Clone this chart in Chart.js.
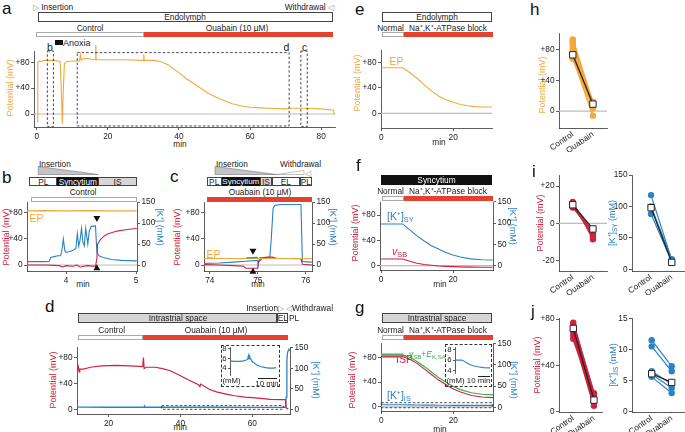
<!DOCTYPE html>
<html>
<head>
<meta charset="utf-8">
<script src="https://cdn.jsdelivr.net/npm/chart.js@4"></script>
<style>
  body { margin: 0; width: 685px; height: 432px; position: relative; overflow: hidden; background: #fff;
         font-family: 'Liberation Sans', Arial, sans-serif; }
  .t { position: absolute; white-space: nowrap; line-height: 1; font-size: 8.3px; color: #222; transform: translate(-50%, -50%); }
  .l { transform: translate(0, -50%); }
  .r { transform: translate(-100%, -50%); }
  .lt { font-size: 17px; color: #111; }
  .bx { position: absolute; box-sizing: border-box; border: 0.8px solid #444; }
  sub { font-size: 70%; vertical-align: -0.25em; }
  canvas { position: absolute; }
</style>
</head>
<body>
<svg style="position:absolute;left:0;top:0" width="685" height="432">
  <polygon points="38.3,166.5 98.3,174.5 38.3,174.5" fill="#c4c4c4" stroke="#777" stroke-width="0.6"/>
  <polygon points="215,166.5 276.7,174.5 215,174.5" fill="#c4c4c4" stroke="#777" stroke-width="0.6"/>
  <polygon points="276.7,174.5 304,170.5 304,174.5" fill="#fff" stroke="#999" stroke-width="0.6"/>
</svg>
<script>
// ---- colours
const ORANGE = '#f2a93b', RED = '#cc2340', BLUE = '#2b83c4', GREEN = '#36a84a', BARRED = '#e5412f', GREY = '#d6d6d6';

// ---- tick labels
const aXTicks = [0, 20, 40, 60, 80];
const potTicks = [0, 40, 80];
const kTicks = [0, 50, 100, 150];
const bXTicks = [4, 5];
const cXTicks = [74, 75, 76];
const dXTicks = [20, 40, 60];
const modelXTicks = [0, 20];
const iVTicks = [-20, 0, 20];
const jKTicks = [0, 5, 10, 15];
const insetTicks = [4, 6, 8];
const catLabels = ['Control', 'Ouabain'];

// ---- a: endolymphatic potential, whole recording (min, mV)
const aTime = [0.1,0.3,0.6,1,2,3,4,5,6,6.6,6.9,7.2,7.5,7.8,8.5,10,11,12,12.3,12.5,13,14,15,16,16.5,16.6,16.7,17,20,25,29.9,30.1,30.3,33,35,37,40,42,45,48,50,53,55,58,60,63,65,70,71,72,75,78,80,83.5,83.7,83.9];
const aEP = [-12,80,82,81,83,83,83,83,82,81,40,-15,40,78,81,82,82,82,92,83,85,86,85,84,84,119,85,84,84,84,83,92,83,83,81,76,64,55,44,33,27,20,16,12,10.5,9.5,9,8,9,9,9,8.5,8,6,0,1];
const aBoxT = [[3.0, 4.7], [11.4, 71.0], [74.3, 76.1]];
const aBoxV = [[-19.5, 97.5], [-18.5, 95], [-19.5, 97.5]];

// ---- b: insertion, control
const bTimeEP = [3.44, 3.7, 4.0, 4.3, 4.6, 5.01];
const bEP = [83, 83.5, 83, 83.5, 83, 83];
const bTimeV = [3.44,3.7,3.9,3.95,4.0,4.1,4.15,4.2,4.3,4.42,4.44,4.45,4.49,4.55,4.6,4.73,4.85,4.97,5.01];
const bV = [0,0,-1,-3,-1,-2,0,-3,-1,-2,10,32,39,45,48,52,54,55.5,56];
const bTimeK = [3.44,3.7,3.76,3.78,3.83,3.88,3.92,3.94,3.96,3.98,4.0,4.05,4.1,4.14,4.16,4.18,4.2,4.22,4.24,4.26,4.28,4.31,4.33,4.36,4.42,4.44,4.47,4.53,4.65,4.8,5.01];
const bK = [8,8,9,18,20,22,22,35,62,35,30,32,35,40,75,45,60,87,55,45,87,50,80,92,93,30,22,18,13,11,10];
const bArrowT = 4.44, bArrowDown = 72, bArrowUp = -5;

// ---- c: insertion, ouabain
const cTimeEP = [73.88, 74.5, 75.0, 75.5, 76.13];
const cEP = [10, 10, 10, 10, 10];
const cTimeV = [73.88,74.2,74.5,74.7,74.75,75.0,75.01,75.06,75.1,75.2,75.3,75.4,75.6,75.9,75.93,76.13];
const cV = [0.5,0,-1,-2,-5,-5,4,8,11,12,12,10,10,9.5,1,0];
const cTimeK = [73.88,74.2,74.5,74.75,75.0,75.01,75.04,75.25,75.28,75.32,75.36,75.5,75.9,75.93,76.13];
const cK = [4,5,7,9,11,1,17,18,60,135,142,144,144,8,7];
const cTimeG = [74.76, 75.0];
const cG = [11, 11.5];
const cArrowT = 74.9, cArrowDown = 22, cArrowUp = -10.5;

// ---- d: intrastrial space
const dTimeV = [11.3,11.6,11.8,12,13,15,18,22,26,29.5,29.7,29.9,30.5,33,35,37,40,42,45,45.4,45.6,48,50,53,55,58,60,63,65,68,69.2,69.45,70];
const dV = [62,66,58,62,62,65,67,68,67,66,80,63,65,65,63,60,52,46,38,35,39,31,27,23,21,19,18,16.5,15.5,15,15,2,0.5];
const dTimeK = [11.3,12,20,29.9,30,30.2,40,50,60,69.2,69.4,69.6,69.8,70.2,70.4];
const dK = [6,5.5,5,5,8,5,5,5,4.5,4.5,30,120,140,147,145];
const dBoxT = [34.8, 68.6], dBoxK = [0, 9];
const dInsetTime = [35,38,42,45,47,48,48.5,49,49.3,49.6,50,50.5,51,53,55,58,61,64,67,69];
const dInsetK = [5.5,5.4,5.4,5.5,5.7,5.8,6.6,5.9,6.8,6.1,6.0,5.8,5.5,5.0,4.6,4.3,4.1,4.0,4.0,4.1];

// ---- e, f, g: model
const eTime = [0,6,8,10,12,14,16,18,20,22,24,26,28,30.8];
const eEP = [72,72,64,55,45,35,27,21.5,17.5,14,12,10.5,10,10];
const fTime = [0,6,8,10,12,14,16,18,20,22,25,28,31];
const fK = [98,98,84,70,58,47,39,31,25,20.5,16,14,13.4];
const fV = [10.5,10.5,7,4,1.8,0.6,-0.4,-1,-1.5,-1.9,-2.2,-2.4,-2.5];
const gTime = [0,6,8,10,12,14,16,18,20,22,25,28,31];
const gISP = [81,81,77,70,61,52,43,36,29,24,18.5,16,15];
const gSum = [84,84,80,73,65,56,47,40,33,28,23,20.5,19.5];
const gK = [6,6,5.8,5.5,5.2,5.0,4.85,4.7,4.6,4.55,4.5,4.5,4.5];
const gFlatTime = [0, 6], gFlat = [83, 83];
const gBoxT = [0, 30.8], gBoxK = [-1, 10.8];
const gInsetTime = [0,6,8,10,13,16,20,25,30.8];
const gInsetK = [6,6,5.8,5.5,5.15,4.9,4.7,4.55,4.5];

// ---- h, i, j: paired summaries
const hControl = [93,91,89,87,85,80,75,70,68];
const hOuabain = [10,9,8,6,5,12,7,-6,4];
const hMean = [73, 9];
const iVControl = [11.5,10.5,10,9,8.5];
const iVOuabain = [-8.5,-7,-5,-6,-4];
const iVMean = [10, -3];
const iKControl = [118, 88, 100];
const iKOuabain = [15, 12, 16];
const iKMean = [98, 11];
const jVControl = [77,75,72,69,66,63];
const jVOuabain = [14,16,11,8,5,12];
const jVMean = [72, 10];
const jKControl = [11.5,10.5,6.5,6.0,5.6];
const jKOuabain = [7.3,6.5,4.4,3.8,3.0];
const jKMean = [6.1, 4.7];

// ---------------------------------------------------------------
Chart.defaults.font.family = "'Liberation Sans', Arial, sans-serif";
Chart.defaults.font.size = 8.3;
Chart.defaults.color = '#222';

const sign = v => v > 0 ? '+' + v : String(v);
const cat = v => catLabels[v];

function T(x, y, html, cls, style) {
  const d = document.createElement('div');
  d.className = 't ' + (cls || '');
  d.innerHTML = html;
  d.style.left = x + 'px';
  d.style.top = y + 'px';
  if (style) d.style.cssText += style;
  document.body.appendChild(d);
  return d;
}
function R(l, t, w, h, bg, style) {
  const d = document.createElement('div');
  d.className = 'bx';
  d.style.cssText = `left:${l}px;top:${t}px;width:${w}px;height:${h}px;background:${bg};` + (style || '');
  document.body.appendChild(d);
}
function V(x, y, html, color, deg) {
  T(x, y, html, '', `color:${color};font-size:9px;transform:translate(-50%,-50%) rotate(${deg}deg)`);
}

function scaleCfg(pos, s, size) {
  return {
    type: 'linear', position: pos, min: s.min, max: s.max, bounds: 'data',
    display: s.display !== false,
    grid: { display: true, drawOnChartArea: false, drawTicks: true, tickLength: s.tl ?? 3, color: '#333', lineWidth: 0.8 },
    border: { display: true, color: '#333', width: 0.8 },
    ticks: { padding: 1.5, color: '#222', font: { size: s.fs || 8.3 }, autoSkip: false,
             minRotation: s.rot || 0, maxRotation: s.rot || 0, callback: s.fmt || (v => String(v)) },
    afterBuildTicks: sc => { sc.ticks = (s.ticks || []).map(v => ({ value: v })); },
    afterFit: sc => {
      if (pos === 'bottom') sc.height = size; else sc.width = size;
      sc.paddingLeft = sc.paddingRight = sc.paddingTop = sc.paddingBottom = 0;
    }
  };
}

function extras(o) {
  return {
    id: 'extras',
    beforeDatasetsDraw(chart) {
      const { ctx, chartArea: ca, scales } = chart;
      if (o.zero) {
        const y = scales.y.getPixelForValue(0);
        ctx.save(); ctx.strokeStyle = '#bdbdbd'; ctx.lineWidth = 1.2;
        ctx.beginPath(); ctx.moveTo(ca.left, y); ctx.lineTo(ca.right, y); ctx.stroke(); ctx.restore();
      }
    },
    afterDatasetsDraw(chart) {
      const { ctx, scales } = chart;
      (o.boxes || []).forEach(b => {
        const ys = scales[b.axis || 'y'];
        const x0 = scales.x.getPixelForValue(b.x[0]), x1 = scales.x.getPixelForValue(b.x[1]);
        const y0 = ys.getPixelForValue(b.y[0]), y1 = ys.getPixelForValue(b.y[1]);
        ctx.save(); ctx.strokeStyle = '#333'; ctx.lineWidth = 0.9; ctx.setLineDash([2.5, 2]);
        ctx.strokeRect(x0, y1, x1 - x0, y0 - y1); ctx.restore();
      });
    }
  };
}

// area = chart area in page pixels; the canvas is placed round it
function makePlot(area, p) {
  const pl = area.pl ?? 34, pr = area.pr ?? 34, pt = area.pt ?? 6, pb = area.pb ?? 24;
  const xHidden = p.x.display === false;
  const w = Math.round(area.r - area.l + pl + pr), h = Math.round(area.b - area.t + pt + pb);
  const c = document.createElement('canvas');
  c.width = w; c.height = h;
  c.style.cssText = `left:${area.l - pl}px;top:${area.t - pt}px;width:${w}px;height:${h}px`;
  document.body.appendChild(c);
  const scales = { x: scaleCfg('bottom', p.x, pb), y: scaleCfg('left', p.y, pl) };
  if (p.yR) scales.yR = scaleCfg('right', p.yR, pr);
  new Chart(c, {
    type: 'scatter',
    data: { datasets: p.datasets },
    options: {
      responsive: false, animation: false, events: [],
      layout: { padding: { top: pt, left: 0, right: p.yR ? 0 : pr, bottom: xHidden ? pb : 0 } },
      plugins: { legend: { display: false }, tooltip: { enabled: false } },
      scales
    },
    plugins: [extras(p)]
  });
}

function trace(xs, ys, color, axis, w, extra) {
  return Object.assign({
    data: xs.map((x, i) => ({ x, y: ys[i] })), showLine: true, borderColor: color,
    borderWidth: w || 1, pointRadius: 0, tension: 0, yAxisID: axis || 'y'
  }, extra || {});
}
function arrow(t, v, down) {
  return { data: [{ x: t, y: v }], pointStyle: 'triangle', pointRotation: down ? 180 : 0, pointRadius: 4,
           pointBackgroundColor: '#111', pointBorderColor: '#111', pointBorderWidth: 0, clip: false, order: -2 };
}
function pairs(ctrl, oua, color, mean, lw) {
  const ds = ctrl.map((c, i) => ({
    data: [{ x: 0, y: c }, { x: 1, y: oua[i] }], showLine: true, borderColor: color, borderWidth: lw || 1.4,
    pointRadius: 3.2, pointBackgroundColor: color, pointBorderWidth: 0, clip: false
  }));
  ds.push({
    data: [{ x: 0, y: mean[0] }, { x: 1, y: mean[1] }], showLine: true, borderColor: '#222', borderWidth: 1.3,
    pointStyle: 'rect', pointRadius: 4.5, pointBackgroundColor: '#fff', pointBorderColor: '#222',
    pointBorderWidth: 1, order: -1, clip: false
  });
  return ds;
}

// ------------------------------------------------ panel a
T(2, 8, 'a', 'l lt');
T(33, 6.5, '<span style="color:#999">▷</span> Insertion', 'l');
T(334, 6.5, 'Withdrawal <span style="color:#999">◁</span>', 'r');
R(38, 11.5, 294.5, 10, '#fff'); T(185, 16.7, 'Endolymph');
T(90, 27.5, 'Control'); T(237, 27.5, 'Ouabain (10 µM)');
R(36, 32, 108, 5, '#fff', 'border-color:#aaa'); R(144, 32, 189, 5, BARRED, 'border:none');
R(55, 40, 7.5, 4.5, '#111', 'border:none'); T(63, 42.5, 'Anoxia', 'l', 'font-size:9px');
T(50, 46.5, 'b', '', 'font-size:10.5px'); T(286.5, 46.5, 'd', '', 'font-size:10.5px'); T(304.5, 46.5, 'c', '', 'font-size:10.5px');
V(10, 88, 'Potential (mV)', ORANGE, -90);
T(180, 143.5, 'min');
makePlot({ l: 34, r: 335, t: 51, b: 127 }, {
  x: { min: -0.76, max: 83.9, ticks: aXTicks },
  y: { min: -20.1, max: 97.5, ticks: potTicks, fmt: sign },
  zero: true,
  boxes: aBoxT.map((bx, i) => ({ x: bx, y: aBoxV[i] })),
  datasets: [trace(aTime, aEP, ORANGE, 'y', 1.1, { clip: false })]
});

// ------------------------------------------------ panel b
T(2, 177, 'b', 'l lt');
T(39, 164, 'Insertion', 'l');
R(29.3, 177, 28, 9, '#fff'); T(43.3, 181.5, 'PL');
R(57.3, 177, 41, 9, '#111', 'border-color:#111'); T(77.8, 181.5, 'Syncytium', '', 'color:#fff');
R(98.3, 177, 38.4, 9, GREY); T(117.5, 181.5, 'IS');
T(83, 192.3, 'Control'); R(30.7, 197, 106, 5, '#fff', 'border-color:#aaa');
T(36.5, 218, 'EP', '', `color:${ORANGE};font-size:10.5px`);
V(6, 236.7, 'Potential (mV)', RED, -90);
V(159, 226.7, '[K⁺] (mM)', BLUE, 90);
T(83, 284, 'min');
makePlot({ l: 27, r: 137, t: 202, b: 271 }, {
  x: { min: 3.44, max: 5.014, ticks: bXTicks },
  y: { min: -9.2, max: 96.6, ticks: potTicks, fmt: sign },
  yR: { min: -14.2, max: 150, ticks: kTicks },
  zero: true,
  datasets: [
    trace(bTimeEP, bEP, ORANGE, 'y', 1.2),
    trace(bTimeV, bV, RED, 'y', 1.1),
    trace(bTimeK, bK, BLUE, 'yR', 1.1),
    arrow(bArrowT, bArrowDown, true), arrow(bArrowT, bArrowUp, false)
  ]
});

// ------------------------------------------------ panel c
T(170, 176, 'c', 'l lt');
T(216, 164, 'Insertion', 'l'); T(280, 163.5, 'Withdrawal', 'l'); T(308, 172.5, '◁', '', 'color:#999');
R(206.7, 177, 15, 9, '#fff'); T(214.2, 181.5, 'PL');
R(221.7, 177, 38.3, 9, '#111', 'border-color:#111'); T(240.8, 181.5, 'Syncytium', '', 'color:#fff;font-size:8px');
R(260, 177, 11.7, 9, GREY); T(265.8, 181.5, 'IS');
R(271.7, 177, 28.3, 9, '#fff'); T(285.8, 181.5, 'EL');
R(300, 177, 11.7, 9, '#fff'); T(305.8, 181.5, 'PL');
T(260, 192.3, 'Ouabain (10 µM)'); R(206.7, 197, 105, 5, BARRED, 'border:none');
T(213.5, 253.5, 'EP', '', `color:${ORANGE};font-size:10.5px`);
V(176.5, 236.7, 'Potential (mV)', RED, -90);
V(332, 226.7, '[K⁺] (mM)', BLUE, 90);
T(258, 284, 'min');
makePlot({ l: 204, r: 312, t: 202, b: 271 }, {
  x: { min: 73.88, max: 76.13, ticks: cXTicks },
  y: { min: -9.2, max: 96.6, ticks: potTicks, fmt: sign },
  yR: { min: -14.2, max: 150, ticks: kTicks },
  zero: true,
  datasets: [
    trace(cTimeG, cG, GREEN, 'y', 1.3),
    trace(cTimeEP, cEP, ORANGE, 'y', 1.2),
    trace(cTimeV, cV, RED, 'y', 1.1),
    trace(cTimeK, cK, BLUE, 'yR', 1.1),
    arrow(cArrowT, cArrowDown, true), arrow(cArrowT, cArrowUp, false)
  ]
});

// ------------------------------------------------ panel d
T(45, 306, 'd', 'l lt');
T(284, 308.3, 'Insertion<span style="color:#999">▷</span>', 'r');
T(286, 308.3, '<span style="color:#999">◁</span>Withdrawal', 'l');
R(78.3, 313.3, 199, 10, GREY); T(178, 318.3, 'Intrastrial space');
R(277.3, 313.3, 11, 10, '#fff'); T(282.8, 318.3, 'EL');
T(289, 318.3, 'PL', 'l');
T(111.7, 330, 'Control'); T(216, 330, 'Ouabain (10 µM)');
R(78.3, 335, 65, 5, '#fff', 'border-color:#aaa'); R(143.3, 335, 145, 5, BARRED, 'border:none');
V(52.7, 380, 'Potential (mV)', RED, -90);
V(315, 380, '[K⁺] (mM)', BLUE, 90);
T(180.3, 426.5, 'min');
makePlot({ l: 77, r: 290, t: 347, b: 414 }, {
  x: { min: 11.22, max: 70.47, ticks: dXTicks },
  y: { min: -7.2, max: 96.3, ticks: potTicks, fmt: sign },
  yR: { min: -11.5, max: 152.4, ticks: kTicks },
  boxes: [{ x: dBoxT, y: dBoxK, axis: 'yR' }],
  datasets: [
    trace(dTimeV, dV, RED, 'y', 1.2),
    trace(dTimeK, dK, BLUE, 'yR', 1.3)
  ]
});
R(220.7, 345, 59.3, 42.3, 'transparent', 'border:0.9px dashed #333');
T(222.5, 381, '(mM)', 'l', 'font-size:7.8px');
T(267, 383.5, '10 min', '', 'font-size:7.8px');
R(258, 377.5, 18.7, 0, 'transparent', 'border:none;border-top:1px solid #222');
makePlot({ l: 230, r: 279, t: 347, b: 377, pl: 9, pr: 2, pt: 3, pb: 2 }, {
  x: { min: 35, max: 71, display: false, ticks: [] },
  y: { min: 2.58, max: 8.37, ticks: insetTicks, fs: 7.8, tl: 2 },
  datasets: [trace(dInsetTime, dInsetK, BLUE, 'y', 1.1)]
});

// ------------------------------------------------ panel e
T(355, 9, 'e', 'l lt');
R(382, 12, 110, 9.5, '#fff'); T(437, 16.7, 'Endolymph');
T(390.5, 27.5, 'Normal'); T(448, 27.5, 'Na⁺,K⁺-ATPase block');
R(382, 32, 21.5, 5, '#fff', 'border-color:#aaa'); R(403.5, 32, 89, 5, BARRED, 'border:none');
T(396.5, 60.5, 'EP', '', `color:${ORANGE};font-size:10.5px`);
V(356.7, 83, 'Potential (mV)', ORANGE, -90);
T(439, 142, 'min');
makePlot({ l: 381, r: 492, t: 50, b: 128 }, {
  x: { min: -0.08, max: 30.8, ticks: modelXTicks },
  y: { min: -23.2, max: 100, ticks: potTicks, fmt: sign },
  zero: true,
  datasets: [trace(eTime, eEP, ORANGE, 'y', 1.1)]
});

// ------------------------------------------------ panel f
T(356, 165, 'f', 'l lt');
R(381, 175, 111, 10, '#111', 'border-color:#111'); T(436.5, 180, 'Syncytium', '', 'color:#fff');
T(390.5, 191.3, 'Normal'); T(448, 191.3, 'Na⁺,K⁺-ATPase block');
R(382, 196, 21.5, 5, '#fff', 'border-color:#aaa'); R(403.5, 196, 89, 5, BARRED, 'border:none');
T(387, 217, '[K⁺]<sub>SY</sub>', 'l', `color:${BLUE};font-size:10.5px`);
T(392, 252, '<i>v</i><sub>SB</sub>', 'l', `color:${RED};font-size:10.5px`);
V(355, 233, 'Potential (mV)', RED, -90);
V(511.7, 226, '[K⁺] (mM)', BLUE, 90);
T(440, 284, 'min');
makePlot({ l: 380, r: 493, t: 202, b: 270 }, {
  x: { min: -0.28, max: 31.1, ticks: modelXTicks },
  y: { min: -6.8, max: 100.7, ticks: potTicks, fmt: sign },
  yR: { min: -10.1, max: 149.5, ticks: kTicks },
  zero: true,
  datasets: [
    trace(fTime, fV, RED, 'y', 1.1),
    trace(fTime, fK, BLUE, 'yR', 1.1)
  ]
});

// ------------------------------------------------ panel g
T(355, 306.5, 'g', 'l lt');
R(381.7, 312.7, 110.6, 10.6, GREY); T(437, 318, 'Intrastrial space');
T(390.5, 329.5, 'Normal'); T(448, 329.5, 'Na⁺,K⁺-ATPase block');
R(382, 335, 21.5, 5, '#fff', 'border-color:#aaa'); R(403.5, 335, 89, 5, BARRED, 'border:none');
T(396, 359, 'ISP', 'l', `color:${RED};font-size:10.5px`);
T(409, 354.5, '<i>v</i><sub>SB</sub>+<i>E</i><sub>K,SA</sub>', 'l', `color:${GREEN};font-size:8.6px`);
T(387, 396, '[K⁺]<sub>IS</sub>', 'l', `color:${BLUE};font-size:10.5px`);
V(351.7, 380, 'Potential (mV)', RED, -90);
V(513, 380, '[K⁺] (mM)', BLUE, 90);
T(440, 428.5, 'min');
makePlot({ l: 381, r: 493, t: 343, b: 411 }, {
  x: { min: -0.08, max: 31.0, ticks: modelXTicks },
  y: { min: -6.5, max: 103.2, ticks: potTicks, fmt: sign },
  yR: { min: -8.7, max: 151, ticks: kTicks },
  zero: true,
  boxes: [{ x: gBoxT, y: gBoxK, axis: 'yR' }],
  datasets: [
    trace(gTime, gSum, GREEN, 'y', 1.1),
    trace(gTime, gISP, RED, 'y', 1.1),
    trace(gTime, gK, BLUE, 'yR', 1.1),
    trace(gFlatTime, gFlat, 'rgba(165,165,165,0.9)', 'y', 4.5, { order: 5 })
  ]
});
R(445, 344, 47.3, 43.3, 'transparent', 'border:0.9px dashed #333');
T(446.5, 381, '(mM) 10 min', 'l', 'font-size:7.8px');
R(478, 375.5, 12, 0, 'transparent', 'border:none;border-top:1px solid #222');
makePlot({ l: 455, r: 490, t: 347, b: 375, pl: 9, pr: 2, pt: 3, pb: 2 }, {
  x: { min: 0, max: 30.8, display: false, ticks: [] },
  y: { min: 3.5, max: 8.54, ticks: insetTicks, fs: 7.8, tl: 2 },
  datasets: [trace(gInsetTime, gInsetK, BLUE, 'y', 1.1)]
});

// ------------------------------------------------ panel h
T(530, 9, 'h', 'l lt');
V(541.7, 85, 'Potential (mV)', ORANGE, -90);
makePlot({ l: 559, r: 607, t: 33, b: 128, pr: 6 }, {
  x: { min: -0.685, max: 1.7, ticks: [0, 1], fmt: cat, rot: 35, tl: 0 },
  y: { min: -22, max: 101.3, ticks: potTicks, fmt: sign },
  zero: true,
  datasets: pairs(hControl, hOuabain, ORANGE, hMean, 1.8)
});

// ------------------------------------------------ panel i
T(532, 171, 'i', 'l lt');
V(540, 223, 'Potential (mV)', RED, -90);
V(613, 223, '[K⁺]<sub>SY</sub> (mM)', BLUE, -90);
makePlot({ l: 559, r: 607, t: 175, b: 271, pr: 6 }, {
  x: { min: -0.685, max: 1.7, ticks: [0, 1], fmt: cat, rot: 35, tl: 0 },
  y: { min: -25.6, max: 26, ticks: iVTicks, fmt: sign },
  zero: true,
  datasets: pairs(iVControl, iVOuabain, RED, iVMean, 1.4)
});
makePlot({ l: 632, r: 685, t: 175, b: 271, pr: 6 }, {
  x: { min: -0.92, max: 1.64, ticks: [0, 1], fmt: cat, rot: 35, tl: 0 },
  y: { min: -2.7, max: 150, ticks: kTicks },
  datasets: pairs(iKControl, iKOuabain, BLUE, iKMean, 1.2)
});

// ------------------------------------------------ panel j
T(531, 311, 'j', 'l lt');
V(536.7, 365, 'Potential (mV)', RED, -90);
V(614, 365, '[K⁺]<sub>IS</sub> (mM)', BLUE, -90);
makePlot({ l: 559, r: 602, t: 318, b: 412, pr: 6 }, {
  x: { min: -0.69, max: 1.39, ticks: [0, 1], fmt: cat, rot: 35, tl: 0 },
  y: { min: -0.3, max: 81, ticks: potTicks, fmt: sign },
  datasets: pairs(jVControl, jVOuabain, RED, jVMean, 2)
});
makePlot({ l: 632, r: 685, t: 318, b: 412, pr: 6 }, {
  x: { min: -0.985, max: 1.665, ticks: [0, 1], fmt: cat, rot: 35, tl: 0 },
  y: { min: -0.05, max: 15.06, ticks: jKTicks },
  datasets: pairs(jKControl, jKOuabain, BLUE, jKMean, 1.2)
});
</script>
</body>
</html>
